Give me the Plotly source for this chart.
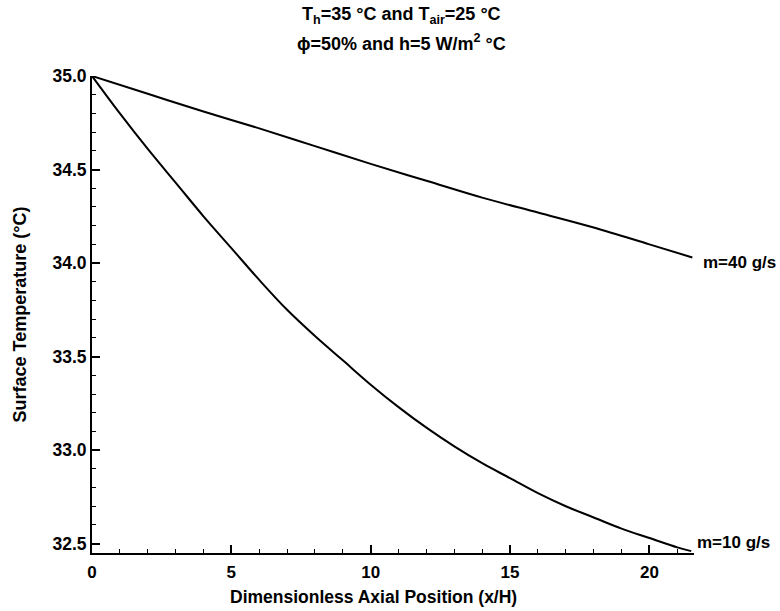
import plotly.graph_objects as go

# Data
x_40 = [0.0, 2.0, 4.0, 6.0, 8.0, 10.0, 12.0, 14.0, 16.0, 18.0, 20.0, 21.54]
t_40 = [35.00, 34.905, 34.81, 34.72, 34.625, 34.53, 34.44, 34.35, 34.27, 34.19, 34.10, 34.03]

x_10 = [0.0, 1.0, 2.0, 3.0, 4.0, 5.0, 6.0, 7.0, 8.0, 9.0, 10.0, 11.0, 12.0, 13.0,
        14.0, 15.0, 16.0, 17.0, 18.0, 19.0, 20.0, 21.0, 21.5]
t_10 = [35.00, 34.80, 34.61, 34.43, 34.25, 34.08, 33.91, 33.75, 33.61, 33.48, 33.35, 33.23,
        33.12, 33.02, 32.93, 32.85, 32.77, 32.70, 32.64, 32.58, 32.53, 32.48, 32.46]

labels = ["m=40 g/s", "m=10 g/s"]
x_ticks = [0, 5, 10, 15, 20]
y_ticks = [32.5, 33.0, 33.5, 34.0, 34.5, 35.0]

FONT = "Liberation Sans, Arial, sans-serif"

fig = go.Figure()
fig.add_trace(go.Scatter(x=x_40, y=t_40, mode="lines", line=dict(color="black", width=2),
                         line_shape="spline", showlegend=False))
fig.add_trace(go.Scatter(x=x_10, y=t_10, mode="lines", line=dict(color="black", width=2),
                         line_shape="spline", showlegend=False))

# Curve end labels
fig.add_annotation(x=x_40[-1], y=t_40[-1], text="<b>" + labels[0] + "</b>", showarrow=False,
                   xanchor="left", yanchor="middle", xshift=9, yshift=-5,
                   font=dict(family=FONT, size=17, color="black"))
fig.add_annotation(x=x_10[-1], y=t_10[-1], text="<b>" + labels[1] + "</b>", showarrow=False,
                   xanchor="left", yanchor="middle", xshift=4, yshift=9,
                   font=dict(family=FONT, size=17, color="black"))

# Title lines
fig.add_annotation(xref="paper", yref="paper", x=0.514, y=1.0, yshift=61, yanchor="middle",
                   showarrow=False,
                   text="<b>T<sub>h</sub>=35 °C and T<sub>air</sub>=25 °C</b>",
                   font=dict(family=FONT, size=18, color="black"))
fig.add_annotation(xref="paper", yref="paper", x=0.514, y=1.0, yshift=34, yanchor="middle",
                   showarrow=False,
                   text="<b>ϕ=50% and h=5 W/m<sup>2</sup> °C</b>",
                   font=dict(family=FONT, size=18, color="black"))

# X-axis title (placed as annotation to match reference offset)
fig.add_annotation(xref="paper", yref="paper", x=0.467, y=0, yshift=-44, yanchor="middle",
                   showarrow=False,
                   text="<b>Dimensionless Axial Position (x/H)</b>",
                   font=dict(family=FONT, size=17.5, color="black"))

fig.update_layout(
    width=780, height=611,
    margin=dict(l=92, r=86, t=76, b=58),
    paper_bgcolor="white", plot_bgcolor="white",
    font=dict(family=FONT, size=17, color="black"),
)
fig.update_xaxes(
    range=[0, 21.6], showgrid=False, zeroline=False,
    showline=True, linecolor="black", linewidth=2,
    ticks="inside", ticklen=8, tickwidth=1.5, tickcolor="black",
    tickmode="array", tickvals=x_ticks,
    ticktext=["<b>%d</b>" % v for v in x_ticks],
    minor=dict(ticks="inside", ticklen=4, tickwidth=1, tickcolor="black", dtick=1, tick0=0, showgrid=False),
    tickfont=dict(size=17), ticklabelstandoff=3,
)
fig.update_yaxes(
    range=[32.45, 35.0], showgrid=False, zeroline=False,
    showline=True, linecolor="black", linewidth=2,
    ticks="inside", ticklen=8, tickwidth=1.5, tickcolor="black",
    tickmode="array", tickvals=y_ticks,
    ticktext=["<b>%.1f</b>" % v for v in y_ticks],
    minor=dict(ticks="inside", ticklen=4, tickwidth=1, tickcolor="black", dtick=0.1, tick0=32.5, showgrid=False),
    tickfont=dict(size=17.5),
    title=dict(text="<b>Surface Temperature (°C)</b>", font=dict(size=18), standoff=21),
)

fig.write_html("out.html")
